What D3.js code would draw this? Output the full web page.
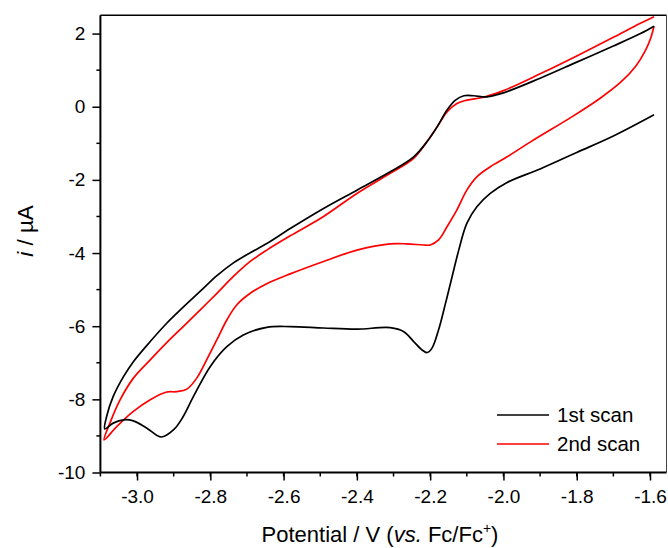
<!DOCTYPE html>
<html><head><meta charset="utf-8">
<script src="https://cdn.jsdelivr.net/npm/d3@7/dist/d3.min.js"></script>
<style>body{margin:0;background:#fff}svg{display:block;font-family:"Liberation Sans",Arial,sans-serif}</style>
</head><body><svg id="c" width="668" height="548"></svg>
<script>
// Scan 1 (black): cathodic branch then anodic return
const scan1V = [-1.589,-1.7,-1.8,-1.9,-1.99,-2.036,-2.072,-2.10,-2.122,-2.14,-2.158,-2.177,-2.195,-2.208,-2.222,-2.245,-2.272,-2.309,-2.40,-2.491,-2.582,-2.646,-2.71,-2.755,-2.80,-2.846,-2.874,-2.90,-2.934,-2.973,-3.01,-3.037,-3.065,-3.088,
  -3.083,-3.065,-3.037,-3.01,-2.964,-2.919,-2.874,-2.828,-2.782,-2.737,-2.691,-2.646,-2.582,-2.491,-2.40,-2.309,-2.245,-2.209,-2.181,-2.154,-2.131,-2.108,-2.081,-2.045,-2.0,-1.9,-1.8,-1.7,-1.626,-1.589];
const scan1I = [-0.22,-0.80,-1.25,-1.70,-2.07,-2.37,-2.73,-3.19,-3.92,-4.64,-5.37,-6.10,-6.60,-6.72,-6.65,-6.42,-6.15,-6.04,-6.08,-6.05,-6.01,-6.03,-6.24,-6.56,-7.10,-7.92,-8.47,-8.83,-9.03,-8.79,-8.59,-8.56,-8.65,-8.81,
  -8.47,-7.92,-7.38,-6.97,-6.42,-5.92,-5.48,-5.05,-4.62,-4.27,-3.99,-3.74,-3.33,-2.78,-2.28,-1.78,-1.37,-0.96,-0.55,-0.09,0.18,0.30,0.30,0.27,0.38,0.78,1.22,1.66,2.00,2.20];
// Scan 2 (red)
const scan2V = [-1.589,-1.598,-1.612,-1.639,-1.680,-1.735,-1.809,-1.926,-1.99,-2.036,-2.072,-2.10,-2.127,-2.154,-2.177,-2.20,-2.218,-2.264,-2.309,-2.40,-2.491,-2.582,-2.646,-2.691,-2.728,-2.755,-2.782,-2.81,-2.837,-2.864,-2.892,-2.919,-2.964,-3.01,-3.055,-3.09,
  -3.074,-3.046,-3.01,-2.964,-2.919,-2.874,-2.828,-2.782,-2.737,-2.691,-2.646,-2.582,-2.491,-2.40,-2.309,-2.245,-2.209,-2.181,-2.154,-2.127,-2.10,-2.054,-2.0,-1.9,-1.8,-1.7,-1.626,-1.589];
const scan2I = [2.20,1.88,1.55,1.11,0.67,0.24,-0.25,-0.96,-1.37,-1.64,-1.91,-2.28,-2.82,-3.28,-3.64,-3.78,-3.78,-3.75,-3.75,-3.92,-4.23,-4.57,-4.84,-5.10,-5.42,-5.83,-6.37,-6.92,-7.42,-7.72,-7.79,-7.80,-8.01,-8.33,-8.74,-9.11,
  -8.65,-8.01,-7.42,-6.92,-6.45,-6.01,-5.56,-5.10,-4.64,-4.23,-3.92,-3.53,-3.00,-2.37,-1.82,-1.41,-0.96,-0.55,-0.14,0.09,0.18,0.26,0.44,0.90,1.39,1.90,2.28,2.46];
const seriesNames = ["1st scan","2nd scan"];
const seriesColors = ["#000000","#ff0000"];
const xTicks = [-3.0,-2.8,-2.6,-2.4,-2.2,-2.0,-1.8,-1.6];
const yTicks = [-10,-8,-6,-4,-2,0,2];

const svg = d3.select("#c");
const x = d3.scaleLinear().domain([-3.1,-1.555]).range([100.4,666.5]);
const y = d3.scaleLinear().domain([-10,2.5]).range([472.5,15.3]);
const FONT = "Liberation Sans, Arial, sans-serif";

// frame top/right
svg.append("line").attr("x1",100.4).attr("x2",666.5).attr("y1",15.3).attr("y2",15.3).attr("stroke","#000").attr("stroke-width",1.5);
svg.append("line").attr("x1",666.5).attr("x2",666.5).attr("y1",15.3).attr("y2",472.5).attr("stroke","#444").attr("stroke-width",1);

// curves
const line = d3.line().x(d=>x(d[0])).y(d=>y(d[1])).curve(d3.curveCatmullRom.alpha(0.5));
const data = [scan1V.map((v,i)=>[v,scan1I[i]]), scan2V.map((v,i)=>[v,scan2I[i]])];
[1,0].forEach(k=>{
  svg.append("path").datum(data[k]).attr("d",line).attr("fill","none")
    .attr("stroke",seriesColors[k]).attr("stroke-width",1.7).attr("stroke-linejoin","round");
});

// axes
const hy = s => s.replace("\u2212","-");
const fmtX = d => hy(d3.format(".1f")(d));
const fmtY = d => hy(d3.format("d")(d));

const gx = svg.append("g").attr("transform","translate(0,472.5)");
gx.selectAll(".mn").data(d3.range(-3.1,-1.55,0.1).map(v=>+v.toFixed(1))).enter().append("line")
  .attr("x1",d=>x(d)).attr("x2",d=>x(d)).attr("y1",0).attr("y2",4).attr("stroke","#000").attr("stroke-width",1.5);
const axB = d3.axisBottom(x).tickValues(xTicks).tickSize(8).tickPadding(9).tickFormat(fmtX);
const gxm = svg.append("g").attr("transform","translate(0,472.5)").call(axB);
gxm.select(".domain").attr("d",`M${x(-3.1)},0H666.5`).attr("stroke-width",2);
gxm.selectAll(".tick line").attr("stroke-width",1.5);
gxm.selectAll("text").attr("font-size",19).attr("fill","#000").attr("font-family",FONT);

const gy = svg.append("g").attr("transform","translate(100.4,0)");
gy.selectAll(".mn").data(d3.range(-9,2.5,2)).enter().append("line")
  .attr("x1",0).attr("x2",-4).attr("y1",d=>y(d)).attr("y2",d=>y(d)).attr("stroke","#000").attr("stroke-width",1.5);
const axL = d3.axisLeft(y).tickValues(yTicks).tickSize(8).tickPadding(7).tickFormat(fmtY);
const gym = svg.append("g").attr("transform","translate(100.4,0)").call(axL);
gym.select(".domain").attr("d","M0,472.5V15.3").attr("stroke-width",2);
gym.selectAll(".tick line").attr("stroke-width",1.5);
gym.selectAll("text").attr("font-size",19).attr("fill","#000").attr("font-family",FONT);

// titles
const xt = svg.append("text").attr("x",380).attr("y",542).attr("text-anchor","middle").attr("font-size",22).attr("fill","#000");
xt.append("tspan").text("Potential / V (");
xt.append("tspan").attr("font-style","italic").text("vs.");
xt.append("tspan").text(" Fc/Fc");
xt.append("tspan").attr("font-size",14).attr("dy",-9).text("+");
xt.append("tspan").attr("dy",9).text(")");

const yt = svg.append("text").attr("transform","translate(33,231) rotate(-90)").attr("text-anchor","middle").attr("font-size",22.5).attr("fill","#000");
yt.append("tspan").attr("font-style","italic").text("i");
yt.append("tspan").text(" / µA");

// legend
const lg = svg.append("g");
seriesNames.forEach((n,i)=>{
  const yy = 415 + i*29;
  lg.append("line").attr("x1",497).attr("x2",549).attr("y1",yy).attr("y2",yy).attr("stroke",seriesColors[i]).attr("stroke-width",1.7);
  lg.append("text").attr("x",557).attr("y",yy).attr("dy","0.36em").attr("font-size",20.5).attr("fill","#000").text(n);
});
</script></body></html>
